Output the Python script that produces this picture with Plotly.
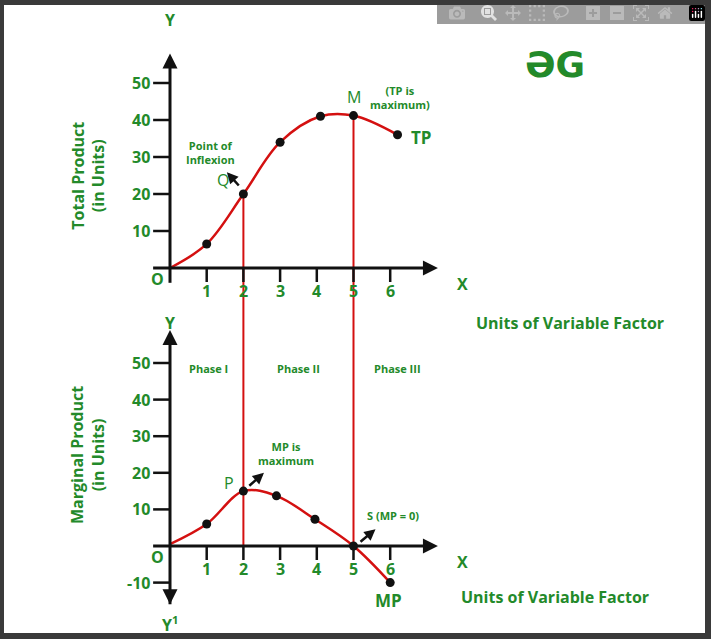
import plotly.graph_objects as go

# data
units = [0, 1, 2, 3, 4.1, 5, 6.2]
tp = [0, 6.5, 20, 34, 41, 41.2, 36]
mp_units = [0, 1, 2, 2.9, 3.95, 5, 6]
mp = [0.5, 6, 15, 13.7, 7.3, 0, -10]
x_ticks = [1, 2, 3, 4, 5, 6]
tp_ticks = [10, 20, 30, 40, 50]
mp_ticks = [-10, 10, 20, 30, 40, 50]
phases = ["Phase I", "Phase II", "Phase III"]
phase_x = [1.06, 3.49, 6.21]
boundaries = [2, 5]  # inflexion Q and TP max M

W, H = 711, 639
X0, KX = 170, 36.7     # pixel of x=0, px per unit
T0, TK = 268, 3.7      # top panel
B0, BK = 546, 3.66     # bottom panel

GREEN = "#238a2a"
RED = "#d41010"
INK = "#111111"
FONT = "Open Sans"


def top_to_bottom(y):
    # express a top-panel y value in bottom-panel units
    px = T0 - y * TK
    return (B0 - px) / BK


fig = go.Figure()
fig.add_trace(go.Scatter(x=units, y=tp, mode="lines", line=dict(color=RED, width=2.5, shape="spline"), yaxis="y"))
fig.add_trace(go.Scatter(x=units[1:], y=tp[1:], mode="markers", marker=dict(color=INK, size=9), yaxis="y"))
fig.add_trace(go.Scatter(x=mp_units, y=mp, mode="lines", line=dict(color=RED, width=2.5, shape="spline"), yaxis="y2"))
fig.add_trace(go.Scatter(x=mp_units[1:], y=mp[1:], mode="markers", marker=dict(color=INK, size=9), yaxis="y2"))

shapes = []
ann = []

# white sheet on dark frame
shapes.append(dict(type="rect", xref="paper", yref="paper", x0=4 / W, x1=705 / W, y0=1 - 633 / H, y1=1 - 5 / H,
                   fillcolor="white", line=dict(width=0), layer="below"))

# red phase boundaries from the TP curve down to the MP axis
for b in boundaries:
    y_top = tp[units.index(b)]
    shapes.append(dict(type="line", xref="x", yref="y2", x0=b, x1=b, y0=top_to_bottom(y_top), y1=0,
                       line=dict(color=RED, width=2), layer="below"))


def arrow(x, y, ax, ay, yref, w=3, size=1.0):
    ann.append(dict(x=x, y=y, ax=ax, ay=ay, xref="x", yref=yref, axref="x", ayref=yref, text="",
                    showarrow=True, arrowhead=2, arrowsize=size, arrowwidth=w, arrowcolor=INK))


def label(x, y, text, yref, size=11, bold=True, color=GREEN, **kw):
    ann.append(dict(x=x, y=y, xref="x", yref=yref, text=f"<b>{text}</b>" if bold else text, showarrow=False,
                    font=dict(family=FONT, size=size, color=color), **kw))


for yref, k, ytop, ybot, ticks in [("y", TK, 58, -4, tp_ticks), ("y2", BK, 59, -15.9, mp_ticks)]:
    shapes.append(dict(type="line", xref="x", yref=yref, x0=-0.46, x1=7.0, y0=0, y1=0, line=dict(color=INK, width=3)))
    shapes.append(dict(type="line", xref="x", yref=yref, x0=0, x1=0, y0=ybot, y1=ytop - 2, line=dict(color=INK, width=3)))
    arrow(7.3, 0, 6.9, 0, yref)
    arrow(0, ytop, 0, ytop - 3, yref)
    for t in x_ticks:
        shapes.append(dict(type="line", xref="x", yref=yref, x0=t, x1=t, y0=0, y1=-14 / k, line=dict(color=INK, width=2.5)))
        label(t, -23 / k, str(t), yref, size=16)
    for t in ticks:
        shapes.append(dict(type="line", xref="x", yref=yref, x0=-0.46, x1=0, y0=t, y1=t, line=dict(color=INK, width=2.5)))
        label(-0.5, t, str(t), yref, size=16, xanchor="right")
    label(-0.33, -3.1, "O", yref, size=16)
    label(7.96, -4.4, "X", yref, size=16)

arrow(0, -15.9, 0, -12.9, "y2")

# top panel text
label(0, 67, "Y", "y", size=16)
label(-2.23, 25, "Total Product<br>(in Units)", "y", size=16, textangle=-90)
label(1.09, 31.1, "Point of<br>Inflexion", "y", size=11)
label(1.45, 23.8, "Q", "y", size=16, bold=False)
label(5.0, 46.2, "M", "y", size=16, bold=False)
label(6.27, 46.2, "(TP is<br>maximum)", "y", size=11)
label(6.84, 35.4, "TP", "y", size=17)
label(10.9, -14.9, "Units of Variable Factor", "y", size=16)
arrow(1.55, 25.9, 1.91, 21.9, "y", w=2.5, size=0.9)

# bottom panel text
label(0, 60.9, "Y", "y2", size=16)
label(0, -21.4, "Y<sup>1</sup>", "y2", size=16)
label(-2.23, 24.9, "Marginal Product<br>(in Units)", "y2", size=16, textangle=-90)
for name, px_ in zip(phases, phase_x):
    label(px_, 48.4, name, "y2", size=11)
label(3.16, 25.4, "MP is<br>maximum", "y2", size=11)
label(1.6, 17.2, "P", "y2", size=16, bold=False)
label(6.08, 8.2, "S (MP = 0)", "y2", size=11)
label(5.94, -14.8, "MP", "y2", size=17)
label(10.5, -13.8, "Units of Variable Factor", "y2", size=16)
arrow(2.56, 20, 2.12, 16.1, "y2", w=2.5, size=0.9)
arrow(5.6, 4.6, 5.15, 0.8, "y2", w=2.5, size=0.9)

# logo
ann.append(dict(x=587 / W, y=1 - 42 / H, xref="paper", yref="paper", text="<b>ƏG</b>", showarrow=False,
                font=dict(family="DejaVu Sans", size=36, color=GREEN)))

fig.update_layout(
    width=W, height=H, margin=dict(l=0, r=0, t=0, b=0), showlegend=False,
    paper_bgcolor="#3a3a3a", plot_bgcolor="rgba(0,0,0,0)",
    xaxis=dict(range=[-X0 / KX, (W - X0) / KX], visible=False, domain=[0, 1]),
    yaxis=dict(range=[-(H - T0) / TK, T0 / TK], visible=False, domain=[0, 1]),
    yaxis2=dict(range=[-(H - B0) / BK, B0 / BK], visible=False, overlaying="y"),
    shapes=shapes, annotations=ann,
)

fig.write_html("out.html", post_script="document.body.style.margin='0';document.body.style.overflow='hidden';")
